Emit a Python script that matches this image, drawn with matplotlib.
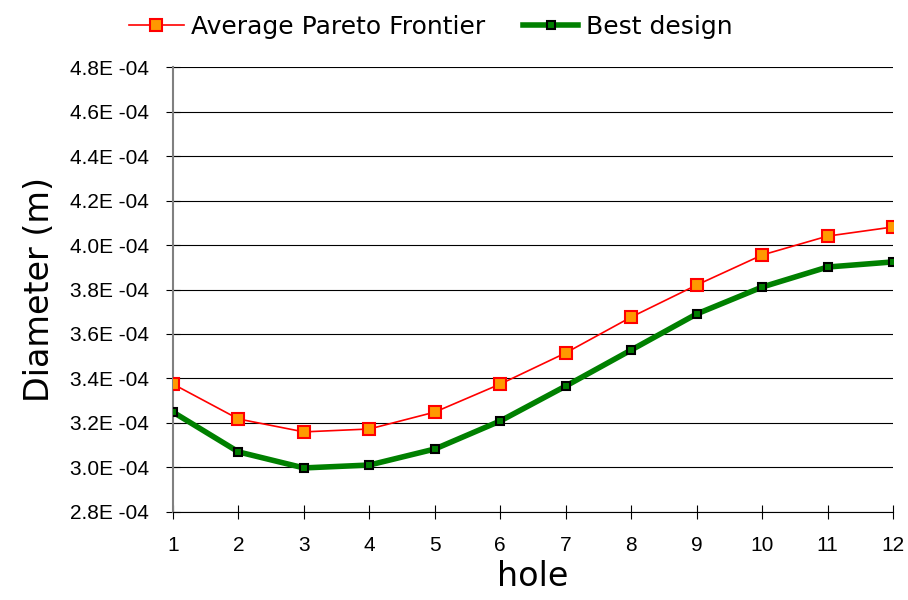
import numpy as np
import matplotlib
matplotlib.use("Agg")
import matplotlib.pyplot as plt
from matplotlib.ticker import FuncFormatter

# ---------------- Data -----------------
holes = list(range(1, 13))
avg_pareto = [3.375, 3.218, 3.160, 3.173, 3.249, 3.375, 3.515, 3.676, 3.820, 3.955, 4.040, 4.081]
best_design = [3.249, 3.070, 2.998, 3.011, 3.083, 3.209, 3.366, 3.528, 3.690, 3.811, 3.901, 3.924]
avg_pareto = [v * 1e-4 for v in avg_pareto]
best_design = [v * 1e-4 for v in best_design]

y_ticks = [2.8e-4 + 0.2e-4 * i for i in range(11)]

# ---------------- Plot -----------------
fig = plt.figure(figsize=(9.08, 6), dpi=100)
ax = fig.add_axes([0.1905, 0.1467, 0.793, 0.7416])

ax.plot(holes, avg_pareto, color="red", lw=1.2, marker="s", ms=9,
        mfc="#ff9900", mec="red", mew=1.5, label="Average Pareto Frontier", zorder=3)
ax.plot(holes, best_design, color="green", lw=4, marker="s", ms=6,
        mfc="green", mec="black", mew=1.5, label="Best design", zorder=4)

ax.set_xlim(1, 12)
ax.set_ylim(2.8e-4, 4.8e-4)
ax.set_xticks(holes)
ax.set_yticks(y_ticks)
ax.yaxis.set_major_formatter(FuncFormatter(lambda v, p: f"{v/1e-4:.1f}E -04"))
ax.grid(axis="y", color="black", lw=0.8)
ax.set_axisbelow(True)

for s in ["top", "right"]:
    ax.spines[s].set_visible(False)
ax.spines["left"].set_color("gray")
ax.spines["left"].set_linewidth(1.5)
ax.spines["bottom"].set_color("black")
ax.tick_params(axis="both", labelsize=15, direction="inout", length=10, colors="black",
               labelfontfamily="Liberation Sans")
ax.tick_params(axis="y", pad=12)
ax.tick_params(axis="x", pad=12)

ax.set_xlabel("hole", fontsize=24, labelpad=4)
ax.set_ylabel("Diameter (m)", fontsize=24, labelpad=10)

ax.legend(loc="lower left", bbox_to_anchor=(-0.075, 1.04), ncol=2, frameon=False,
          fontsize=18, handlelength=2.2, columnspacing=1.5, handletextpad=0.3,
          borderaxespad=0)

fig.savefig("out.png", dpi=100)
